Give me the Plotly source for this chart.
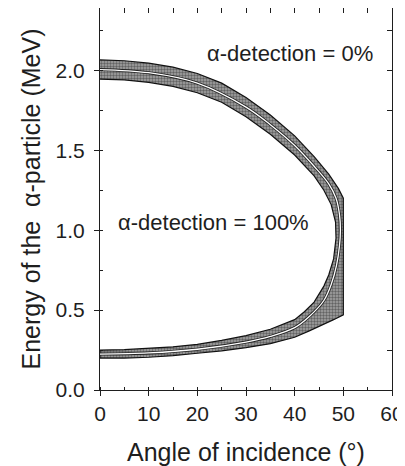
import plotly.graph_objects as go

# Upper branch (alpha-detection = 0%) edges
up_out_ang = [0, 5, 10, 15, 20, 25, 30, 35, 40, 44, 47, 49, 50]
up_out_E   = [2.065, 2.06, 2.045, 2.02, 1.98, 1.92, 1.83, 1.72, 1.59, 1.46, 1.35, 1.26, 1.20]
up_in_ang  = [0, 5, 10, 15, 20, 25, 30, 35, 40, 44, 46, 47.5, 48.4]
up_in_E    = [1.945, 1.94, 1.925, 1.90, 1.86, 1.80, 1.71, 1.60, 1.47, 1.34, 1.25, 1.16, 1.05]

# Lower branch (alpha-detection = 100%) edges
lo_out_ang = [0, 5, 10, 15, 20, 25, 30, 35, 40, 43, 46, 48, 50]
lo_out_E   = [0.20, 0.20, 0.205, 0.215, 0.23, 0.245, 0.265, 0.29, 0.33, 0.37, 0.41, 0.44, 0.47]
lo_in_ang  = [0, 5, 10, 15, 20, 25, 30, 35, 40, 42, 44, 46, 47, 48, 48.5]
lo_in_E    = [0.25, 0.252, 0.26, 0.27, 0.285, 0.31, 0.34, 0.38, 0.44, 0.49, 0.55, 0.65, 0.72, 0.82, 0.95]

# Central (most probable) curve through the turning point
c_ang = [0, 10, 20, 30, 35, 40, 44, 47, 48.5, 49.2, 49.4, 49.2, 48.6, 47.5, 46, 43, 40, 35, 30, 20, 10, 0]
c_E   = [2.005, 1.985, 1.92, 1.77, 1.66, 1.53, 1.40, 1.29, 1.20, 1.10, 1.00, 0.90, 0.78, 0.66, 0.56, 0.46, 0.39, 0.335, 0.30, 0.255, 0.232, 0.225]

label_top = "α-detection = 0%"
label_bot = "α-detection = 100%"
x_title = "Angle of incidence (°)"
y_title = "Energy of the  α-particle (MeV)"

FONT = "Liberation Sans"
INK = "#1e1e1e"

poly_x = up_out_ang + lo_out_ang[::-1] + lo_in_ang + up_in_ang[::-1]
poly_y = up_out_E + lo_out_E[::-1] + lo_in_E + up_in_E[::-1]

fig = go.Figure()
fig.add_trace(go.Scatter(
    x=poly_x, y=poly_y, fill="toself", mode="lines",
    line=dict(color="#111111", width=1.2),
    fillcolor="#8c8c8c",
    fillpattern=dict(shape=".", bgcolor="#a4a4a4", fgcolor="#222222", size=3, solidity=0.5),
    hoverinfo="skip", showlegend=False))
fig.add_trace(go.Scatter(x=c_ang, y=c_E, mode="lines",
                         line=dict(color="#222222", width=3.0, shape="spline"),
                         hoverinfo="skip", showlegend=False))
fig.add_trace(go.Scatter(x=c_ang, y=c_E, mode="lines",
                         line=dict(color="white", width=1.3, shape="spline"),
                         hoverinfo="skip", showlegend=False))
# invisible trace for secondary (mirror) axes
fig.add_trace(go.Scatter(x=[0], y=[0], xaxis="x2", yaxis="y2", mode="markers",
                         marker=dict(opacity=0), hoverinfo="skip", showlegend=False))

fig.add_annotation(x=39.1, y=2.106, text=label_top, showarrow=False,
                   font=dict(family=FONT, size=22, color=INK))
fig.add_annotation(x=23.4, y=1.046, text=label_bot, showarrow=False,
                   font=dict(family=FONT, size=22, color=INK))
# axis titles
fig.add_annotation(xref="paper", yref="paper", x=0.5, y=-0.162, yanchor="middle",
                   text=x_title, showarrow=False, font=dict(family=FONT, size=25, color=INK))
fig.add_annotation(xref="paper", yref="paper", x=-0.238, y=0.5, xanchor="center",
                   text=y_title, textangle=-90, showarrow=False,
                   font=dict(family=FONT, size=25, color=INK))

axis_common = dict(showgrid=False, zeroline=False, linecolor=INK, linewidth=1.2,
                   tickcolor=INK, tickwidth=1.2, automargin=False)
# the page body has an 8px margin, so the figure is sized to fill the rest of the window
fig.update_layout(
    width=397, height=458,
    margin=dict(l=92, r=13, t=0, b=76),
    paper_bgcolor="white", plot_bgcolor="white",
    font=dict(family=FONT, size=21, color=INK),
    xaxis=dict(range=[0, 60], dtick=10, tick0=0, ticks="outside", ticklen=5,
               minor=dict(dtick=5, ticks="inside", ticklen=3, tickcolor=INK),
               showline=True, **axis_common),
    yaxis=dict(range=[0, 2.39], dtick=0.5, tick0=0, ticks="outside", ticklen=5,
               tickformat=".1f", ticklabelstandoff=5,
               minor=dict(dtick=0.25, ticks="inside", ticklen=3, tickcolor=INK),
               showline=True, **axis_common),
    xaxis2=dict(range=[0, 60], overlaying="x", side="top", dtick=5, ticks="inside",
                ticklen=5, showticklabels=False, showline=True, **axis_common),
    yaxis2=dict(range=[0, 2.39], overlaying="y", side="right", dtick=0.25, ticks="inside",
                ticklen=5, showticklabels=False, showline=True, **axis_common),
)

fig.write_html("out.html")
